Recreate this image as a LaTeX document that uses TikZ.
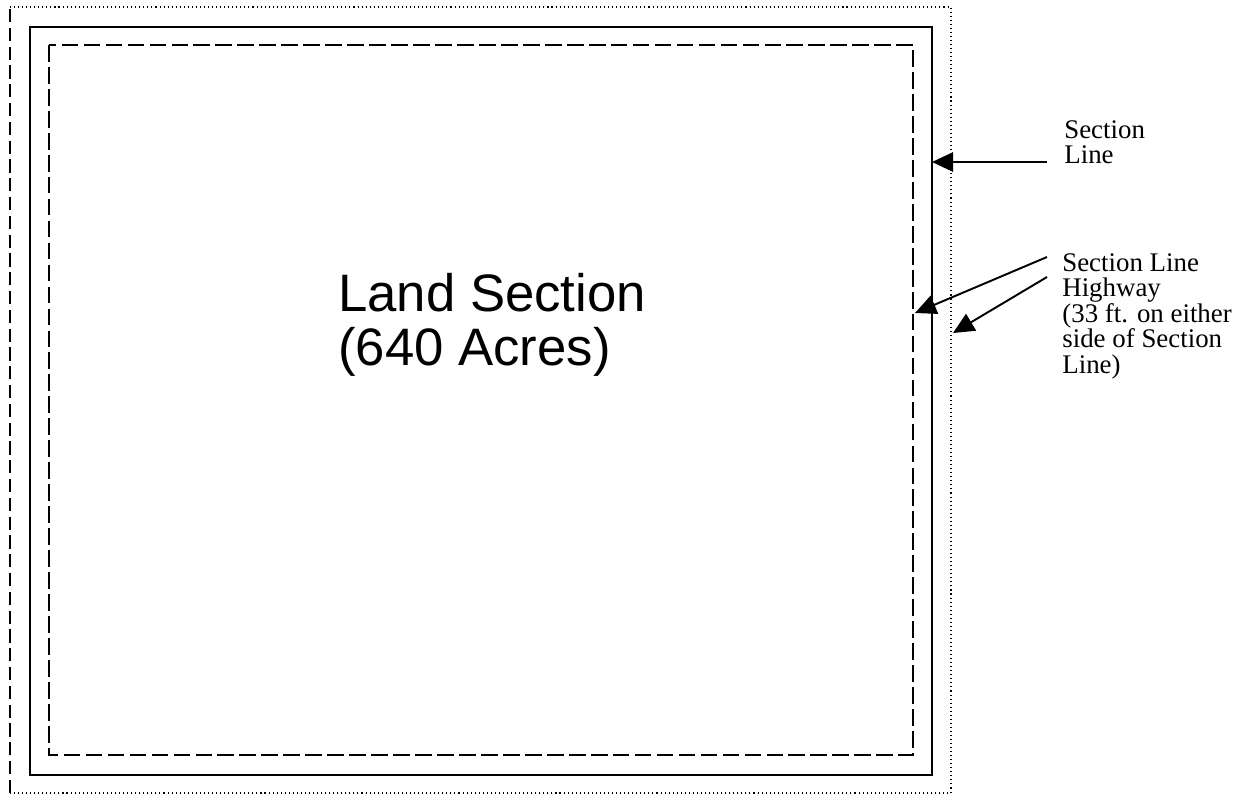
\documentclass[tikz,border=0pt]{standalone}
\usepackage{fontspec}
\setmainfont{Liberation Serif}
\setsansfont{Liberation Sans}
\usetikzlibrary{arrows.meta, positioning}

\begin{document}
\begin{tikzpicture}[
    x=0.02cm, y=-0.02cm,
    sectionline/.style={line width=1.1pt},
    highwayedge/.style={line width=1.1pt, dash pattern=on 9.5pt off 3pt},
    outeredge/.style={line width=0.6pt, dash pattern=on 0.6pt off 1.7pt},
    leftedge/.style={line width=1pt, dash pattern=on 7.5pt off 3.2pt},
    pointer/.style={line width=1.1pt, -{Triangle[length=12pt, width=11pt]}},
    labelfont/.style={font=\fontsize{15.3}{14.5}\selectfont, align=left, inner sep=0pt},
    titlefont/.style={font=\sffamily\fontsize{30}{30.5}\selectfont, align=left, inner sep=0pt}
]

% Page size (pixels of the drawing)
\useasboundingbox (0,0) rectangle (1251,795);

% Edges of the three frames
\def\outerL{10}  \def\outerT{7}  \def\outerR{951} \def\outerB{793}
\def\lineL{30}   \def\lineT{27}  \def\lineR{932} \def\lineB{775}
\def\hwyL{49}    \def\hwyT{45}   \def\hwyR{913}  \def\hwyB{755}

% Outer highway edge (dotted, left side dashed)
\draw[outeredge] (\outerL,\outerT) -- (\outerR,\outerT) -- (\outerR,\outerB) -- (\outerL,\outerB);
\draw[leftedge] (\outerL,\outerB) -- (\outerL,\outerT);

% Section line
\draw[sectionline] (\lineL,\lineT) rectangle (\lineR,\lineB);

% Inner highway edge
\draw[highwayedge] (\hwyL,\hwyT) rectangle (\hwyR,\hwyB);

% Title in the middle
\node[titlefont, anchor=north west] (land) at (338,273) {Land Section\\(640 Acres)};

% Labels on the right
\node[labelfont, anchor=north west] (seclbl) at (1064,120) {Section\\Line};
\node[labelfont, anchor=north west] (hwylbl) at (1062,253) {Section Line\\Highway\\(33 ft. on either\\side of Section\\Line)};

% Pointer ends
\coordinate (secfrom) at (1047,162);
\coordinate (secto) at (\lineR,162);
\coordinate (innerfrom) at (1047,257);
\coordinate (innerto) at (\hwyR+2,313);
\coordinate (outerfrom) at (1047,277);
\coordinate (outerto) at (\outerR+2,333);

\draw[pointer] (secfrom) -- (secto);
\draw[pointer] (innerfrom) -- (innerto);
\draw[pointer] (outerfrom) -- (outerto);

\end{tikzpicture}
\end{document}
